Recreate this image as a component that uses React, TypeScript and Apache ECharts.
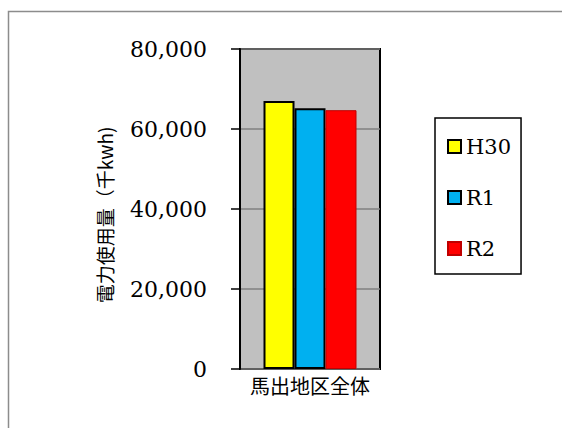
import React, { useEffect, useRef } from "react";
import * as echarts from "echarts";

// Electricity use for the whole Magari district, by fiscal year (千kwh)
const categories = ["馬出地区全体"];
const seriesNames = ["H30", "R1", "R2"];
const h30Values = [67000];
const r1Values = [65200];
const r2Values = [64700];
const yTicks = [0, 20000, 40000, 60000, 80000];

const seriesColors = ["#ffff00", "#00b0f0", "#ff0000"];
const seriesBorders = ["#000000", "#000000", "#c00000"];

const SERIF = "DejaVu Serif";
const SANS = "Noto Sans CJK JP";

export default function App() {
  const ref = useRef<HTMLDivElement>(null);

  useEffect(() => {
    if (!ref.current) return;
    const chart = echarts.init(ref.current, null, { renderer: "svg" });
    const values = [h30Values, r1Values, r2Values];

    chart.setOption({
      animation: false,
      backgroundColor: "#ffffff",
      grid: {
        left: 240,
        top: 49,
        width: 140,
        height: 320,
        show: true,
        backgroundColor: "#c0c0c0",
        borderColor: "#000000",
        borderWidth: 2,
      },
      legend: {
        orient: "vertical",
        left: 435,
        top: 118,
        data: seriesNames,
        itemWidth: 13,
        itemHeight: 13,
        itemGap: 30,
        padding: [18, 10, 15, 12],
        borderColor: "#000000",
        borderWidth: 1.5,
        backgroundColor: "#ffffff",
        textStyle: { fontFamily: SERIF, fontSize: 21, color: "#000000" },
        icon: "rect",
      },
      xAxis: {
        type: "category",
        data: categories,
        axisLine: { show: false },
        axisTick: { show: false },
        axisLabel: {
          fontFamily: SANS,
          fontSize: 20,
          color: "#000000",
          margin: 6,
        },
      },
      yAxis: {
        type: "value",
        min: yTicks[0],
        max: yTicks[yTicks.length - 1],
        interval: yTicks[1] - yTicks[0],
        axisLine: { show: true, lineStyle: { color: "#000000", width: 2 } },
        axisTick: { show: true, length: 9, lineStyle: { color: "#000000", width: 1.5 } },
        axisLabel: {
          fontFamily: SERIF,
          fontSize: 22,
          color: "#000000",
          margin: 33,
          formatter: (v: number) => v.toLocaleString("en-US"),
        },
        splitLine: { show: true, lineStyle: { color: "#808080", width: 1.5 } },
      },
      series: seriesNames.map((name, i) => ({
        name,
        type: "bar",
        data: values[i],
        barWidth: 31,
        barGap: "0%",
        itemStyle: {
          color: seriesColors[i],
          borderColor: seriesBorders[i],
          borderWidth: i === 2 ? 1 : 2,
        },
      })),
      graphic: [
        {
          type: "rect",
          shape: { x: 8.5, y: 11.5, width: 800, height: 800 },
          style: { fill: "none", stroke: "#8c8c8c", lineWidth: 1.5 },
          silent: true,
          z: -10,
        },
        {
          type: "text",
          x: 104,
          y: 215,
          rotation: Math.PI / 2,
          style: {
            text: "電力使用量（千kwh)",
            fontFamily: SANS,
            fontSize: 19,
            fill: "#000000",
            align: "center",
            verticalAlign: "middle",
          },
        },
      ],
    });

    return () => chart.dispose();
  }, []);

  return (
    <div
      ref={ref}
      style={{ position: "fixed", left: 0, top: 0, width: 562, height: 428 }}
    />
  );
}
